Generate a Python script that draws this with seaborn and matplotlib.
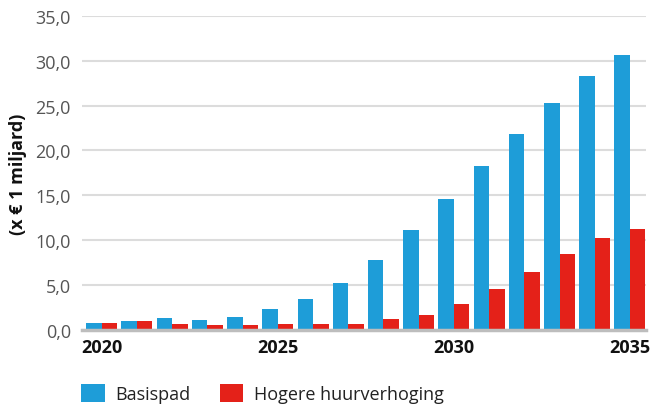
import matplotlib
matplotlib.use("Agg")
import matplotlib.pyplot as plt
import seaborn as sns
import pandas as pd
from matplotlib.patches import Patch
from matplotlib.ticker import FuncFormatter

years = list(range(2020, 2036))
basispad = [0.8, 1.0, 1.3, 1.1, 1.45, 2.3, 3.45, 5.2, 7.8, 11.1, 14.6, 18.3, 21.8, 25.3, 28.3, 30.6]
hogere = [0.8, 1.0, 0.65, 0.55, 0.55, 0.65, 0.65, 0.65, 1.2, 1.7, 2.9, 4.6, 6.5, 8.5, 10.2, 11.2]
series_names = ["Basispad", "Hogere huurverhoging"]
colors = ["#1e9dd8", "#e42119"]
tick_years = [2020, 2025, 2030, 2035]

df = pd.DataFrame({
    "jaar": years * 2,
    "waarde": basispad + hogere,
    "scenario": [series_names[0]] * len(years) + [series_names[1]] * len(years),
})

sns.set_theme(style="white")
plt.rcParams['font.family'] = ['Open Sans', 'DejaVu Sans']

fig = plt.figure(figsize=(6.51, 4.10), dpi=100)
ax = fig.add_axes([0.126, 0.193, 0.866, 0.766])

sns.barplot(data=df, x="jaar", y="waarde", hue="scenario", palette=colors,
            width=0.88, gap=0, saturation=1, legend=False, ax=ax,
            linewidth=0, edgecolor="none")

ax.set_ylim(0, 35)
ax.set_xlim(-0.56, 15.45)
ax.set_yticks(range(0, 36, 5))
ax.yaxis.set_major_formatter(FuncFormatter(lambda v, p: f"{v:.1f}".replace(".", ",")))
ax.yaxis.grid(True, color="#dcdcdc", linewidth=1.5)
ax.set_axisbelow(True)

pos = [years.index(y) for y in tick_years]
ax.set_xticks(pos)
ax.set_xticklabels([str(y) for y in tick_years], fontweight="bold", fontsize=13, color="#111111")
ax.tick_params(axis="y", labelsize=13, labelcolor="#555555", length=0, pad=8)
ax.tick_params(axis="x", length=0, pad=6)

for s in ["top", "right", "left"]:
    ax.spines[s].set_visible(False)
ax.spines["bottom"].set_color("#bdbdbd")
ax.spines["bottom"].set_linewidth(2.5)

ax.set_xlabel("")
ax.set_ylabel("(x € 1 miljard)", fontweight="bold", fontsize=13, color="#111111", labelpad=6)

handles = [Patch(facecolor=c, edgecolor="none") for c in colors]
fig.legend(handles, series_names, loc="lower left", bbox_to_anchor=(0.1, -0.025), ncol=2,
           frameon=False, fontsize=13, handlelength=1.3, handleheight=1.2,
           columnspacing=1.6, handletextpad=0.6, labelcolor="#222222")

fig.savefig("out.png", dpi=100)
